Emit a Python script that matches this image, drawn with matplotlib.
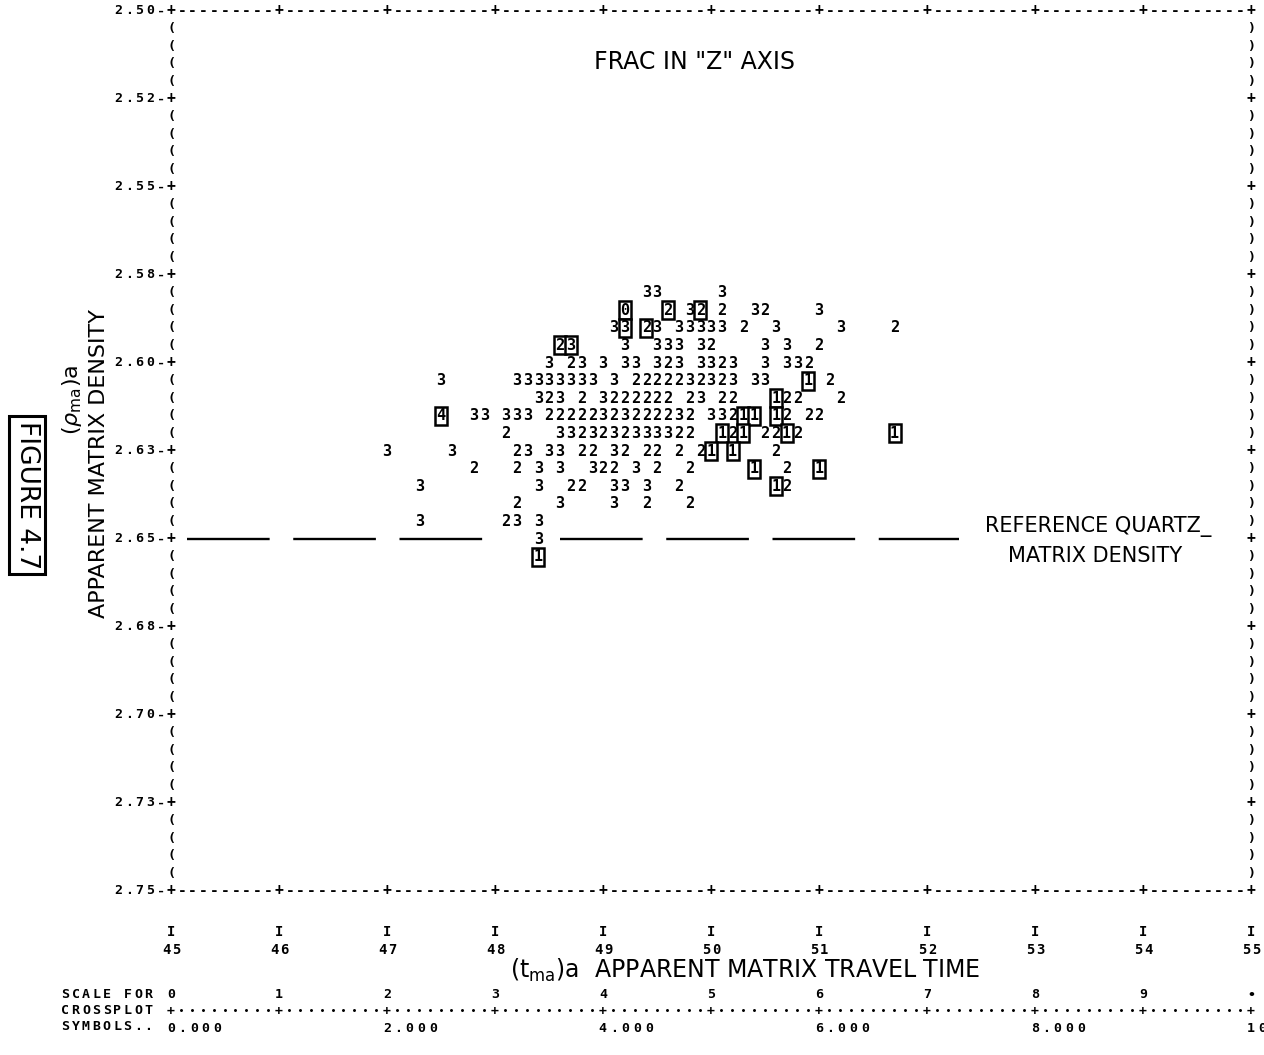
import matplotlib
matplotlib.use("Agg")
import matplotlib.pyplot as plt

W, H, DPI = 1264, 1055, 100
MONO = "DejaVu Sans Mono"
SANS = "DejaVu Sans"

# ---------------- data ----------------
x_ticks = [45, 46, 47, 48, 49, 50, 51, 52, 53, 54, 55]
x_tick_labels = ["45", "46", "47", "48", "49", "50", "51", "52", "53", "54", "55"]
y_ticks = [2.500, 2.525, 2.550, 2.575, 2.600, 2.625, 2.650, 2.675, 2.700, 2.725, 2.750]
y_tick_labels = ["2.50", "2.52", "2.55", "2.58", "2.60", "2.63", "2.65",
                 "2.68", "2.70", "2.73", "2.75"]
line_step = 0.005   # printer line spacing (density)
col_step = 0.1      # printer column spacing (travel time)

# crossplot symbols, one printer line per density value;
# each chunk = (travel time of first character, characters)
# upper-case letters are boxed symbols
row_density = [2.580, 2.585, 2.590, 2.595, 2.600, 2.605, 2.610, 2.615,
               2.620, 2.625, 2.630, 2.635, 2.640, 2.645, 2.650, 2.655]
row_chunks = [
    [(49.4, "33"), (50.1, "3")],
    [(49.2, "E"), (49.6, "B"), (49.8, "3B"), (50.1, "2"), (50.4, "32"), (51.0, "3")],
    [(49.1, "3C B3 33333 2"), (50.6, "3"), (51.2, "3"), (51.7, "2")],
    [(48.6, "BC"), (49.2, "3  333 32"), (50.5, "3 3"), (51.0, "2")],
    [(48.5, "3 23 3 33 323 3323"), (50.5, "3 332")],
    [(47.5, "3"), (48.2, "33333333 3 2222232323 33"), (50.9, "A 2")],
    [(48.4, "323 2 3222222 23 22"), (50.6, "A22"), (51.2, "2")],
    [(47.5, "D"), (47.8, "33 333 22222323222232 332AA A2 22")],
    [(48.1, "2"), (48.6, "3323232333322"), (50.1, "A2A 22A2"), (51.7, "A")],
    [(47.0, "3"), (47.6, "3"), (48.2, "23 33 22 32 22 2 2A A"), (50.6, "2")],
    [(47.8, "2"), (48.2, "2 3 3  322 3 2  2"), (50.4, "A  2  A")],
    [(47.3, "3"), (48.4, "3  22  33 3  2"), (50.6, "A2")],
    [(48.2, "2   3    3  2   2")],
    [(47.3, "3"), (48.1, "23 3")],
    [(48.4, "3")],
    [(48.4, "A")],
]
boxed_symbols = {"A": "1", "B": "2", "C": "3", "D": "4", "E": "0"}

quartz_density = 2.65
quartz_line_segments = [(45.15, 47.9), (48.6, 52.3)]

scale_symbols = ["0", "1", "2", "3", "4", "5", "6", "7", "8", "9", "\u2022"]
scale_values = ["0.000", "2.000", "4.000", "6.000", "8.000", "10.000"]
scale_rows = ["SCALE FOR", "CROSSPLOT", "SYMBOLS.."]

# ---------------- figure ----------------
fig = plt.figure(figsize=(W / DPI, H / DPI), dpi=DPI)
fig.patch.set_facecolor("white")
ax = fig.add_axes([171 / W, 1 - 891 / H, 1080 / W, 880 / H])
ax.set_xlim(x_ticks[0], x_ticks[-1])
ax.set_ylim(y_ticks[-1], y_ticks[0])
ax.axis("off")

PT = dict(family=MONO, weight="bold", ha="center", va="center", color="black")


def data_px(x, y):
    d = ax.transData.transform((x, y))
    return d[0], H - d[1]


def ptext(px, py, s, pitch=10.8, size=9.5, ha="left", **kw):
    n = len(s)
    if ha == "left":
        start = px + pitch / 2
    elif ha == "right":
        start = px - pitch * (n - 0.5)
    else:
        start = px - pitch * (n - 1) / 2
    for i, ch in enumerate(s):
        if ch == " ":
            continue
        fig.text((start + i * pitch) / W, 1 - py / H, ch, fontsize=size, **PT, **kw)


# ---- printer border ----
x0, x1 = x_ticks[0], x_ticks[-1]
y0, y1 = y_ticks[0], y_ticks[-1]
n_cols = int(round((x1 - x0) / col_step))
n_rows = int(round((y1 - y0) / line_step))
for k in range(n_cols + 1):
    x = x0 + k * col_step
    ch = "+" if k % 10 == 0 else "-"
    ax.text(x, y0, ch, fontsize=10.5, **PT)
    ax.text(x, y1, ch, fontsize=10.5, **PT)
for k in range(1, n_rows):
    y = y0 + k * line_step
    if k % 5 == 0:
        ax.text(x0, y, "+", fontsize=10.5, **PT)
        ax.text(x1, y, "+", fontsize=10.5, **PT)
    else:
        ax.text(x0, y, "(", fontsize=9.5, **PT)
        ax.text(x1, y, ")", fontsize=9.5, **PT)

# y tick labels
for v, lab in zip(y_ticks, y_tick_labels):
    px, py = data_px(x0, v)
    ptext(px - 5, py, lab + "-", pitch=10.6, ha="right")

# x tick marks and labels
for v, lab in zip(x_ticks, x_tick_labels):
    px, _ = data_px(v, y1)
    ptext(px, 932, "I", ha="center", size=10)
    ptext(px, 950, lab, pitch=10, ha="center", size=10)

# ---- reference quartz matrix density line ----
for xa, xb in quartz_line_segments:
    ax.plot([xa, xb], [quartz_density, quartz_density], color="black", lw=1.7,
            dashes=(35, 10), dash_capstyle="butt", clip_on=False)

# ---- crossplot symbols ----
for rho, chunks in zip(row_density, row_chunks):
    for xs, s in chunks:
        for i, ch in enumerate(s):
            if ch == " ":
                continue
            x = xs + col_step * i
            if ch in boxed_symbols:
                ax.text(x, rho, boxed_symbols[ch], fontsize=11, zorder=4,
                        bbox=dict(boxstyle="square,pad=0.1", fc="white",
                                  ec="black", lw=1.8), **PT)
            else:
                ax.text(x, rho, ch, fontsize=11, zorder=3, **PT)

# ---- lettering ----
fig.text(695 / W, 1 - 62 / H, 'FRAC IN "Z" AXIS', family=SANS, fontsize=17,
         ha="center", va="center")
fig.text(1098 / W, 1 - 527 / H, "REFERENCE QUARTZ_", family=SANS, fontsize=15,
         ha="center", va="center")
fig.text(1095 / W, 1 - 556 / H, "MATRIX DENSITY", family=SANS, fontsize=15,
         ha="center", va="center")
fig.text(745 / W, 1 - 970 / H,
         r"(t$_{\mathregular{ma}}$)a  APPARENT MATRIX TRAVEL TIME",
         family=SANS, fontsize=17, ha="center", va="center")
fig.text(99 / W, 1 - 463 / H, "APPARENT MATRIX DENSITY", family=SANS,
         fontsize=16, rotation=90, ha="center", va="center")
fig.text(72 / W, 1 - 400 / H, r"($\rho_{\mathregular{ma}}$)a", family=SANS,
         fontsize=16, rotation=90, ha="center", va="center")
fig.text(27 / W, 1 - 495 / H, "FIGURE 4.7", family=SANS, fontsize=19,
         rotation=-90, ha="center", va="center",
         bbox=dict(boxstyle="square,pad=0.2", fc="white", ec="black", lw=2.2))

# ---- scale for crossplot symbols ----
for j, lab in enumerate(scale_rows):
    ptext(60, 995 + 16 * j, lab, pitch=10.4)
for v, lab in zip(x_ticks, scale_symbols):
    px, _ = data_px(v, y1)
    ptext(px, 995, lab, ha="center")
for k in range(n_cols + 1):
    px, _ = data_px(x0 + k * col_step, y1)
    if k % 10 == 0:
        ptext(px, 1011, "+", ha="center", size=9.5)
    else:
        ptext(px, 1012, "\u2022", ha="center", size=6)
for j, lab in enumerate(scale_values):
    px, _ = data_px(x0 + 2 * j, y1)
    ptext(px - 6, 1028, lab, pitch=11.5)

fig.savefig("out.png", dpi=DPI, facecolor="white")
